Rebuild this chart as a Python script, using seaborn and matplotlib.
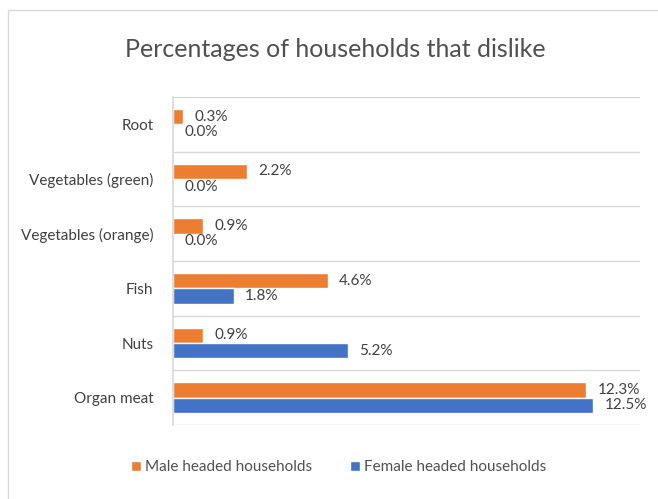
import matplotlib
matplotlib.use("Agg")
import matplotlib.pyplot as plt
import seaborn as sns
import pandas as pd
from matplotlib.patches import Rectangle

categories = ["Root", "Vegetables (green)", "Vegetables (orange)", "Fish", "Nuts", "Organ meat"]
male = [0.3, 2.2, 0.9, 4.6, 0.9, 12.3]
female = [0.0, 0.0, 0.0, 1.8, 5.2, 12.5]
series = ["Male headed households", "Female headed households"]
colors = ["#ED7D31", "#4472C4"]

df = pd.DataFrame({
    "cat": categories * 2,
    "val": male + female,
    "grp": [series[0]] * len(categories) + [series[1]] * len(categories),
})

sns.set_theme(style="white")
plt.rcParams["font.family"] = ["Lato", "DejaVu Sans"]

fig = plt.figure(figsize=(6.58, 4.99), dpi=100)
ax = fig.add_axes([0.263, 0.148, 0.71, 0.658])

sns.barplot(data=df, y="cat", x="val", hue="grp", order=categories, hue_order=series,
            palette=colors, orient="h", width=0.56, ax=ax, legend=True, saturation=1)

for cont in ax.containers:
    labels = [f"{v:.1f}%" for v in cont.datavalues]
    ax.bar_label(cont, labels=labels, padding=8, fontsize=11, color="#404040")

ax.set_xlim(0, 13.9)
ax.set_ylim(len(categories) - 0.5, -0.5)
for y in [i - 0.5 for i in range(len(categories) + 1)]:
    ax.axhline(y, color="#d9d9d9", lw=1, zorder=0)
ax.set_xticks([])
ax.set_xlabel("")
ax.set_ylabel("")
for s in ["top", "right", "bottom"]:
    ax.spines[s].set_visible(False)
ax.spines["left"].set_color("#d9d9d9")
ax.tick_params(axis="y", length=0, labelsize=11, labelcolor="#404040", pad=14)

fig.text(0.51, 0.90, "Percentages of households that dislike", ha="center", va="center",
         fontsize=18, color="#505050")

ax.legend(loc="upper center", bbox_to_anchor=(0.355, -0.065), ncol=2, frameon=False,
          fontsize=11, handlelength=0.6, handleheight=0.6, columnspacing=2.5,
          handletextpad=0.3, labelcolor="#505050")

fig.patches.append(Rectangle((0.012, -0.02), 1.0, 1.0, transform=fig.transFigure,
                             fill=False, edgecolor="#d9d9d9", lw=1))
fig.savefig("out.png", dpi=100, facecolor="white")
